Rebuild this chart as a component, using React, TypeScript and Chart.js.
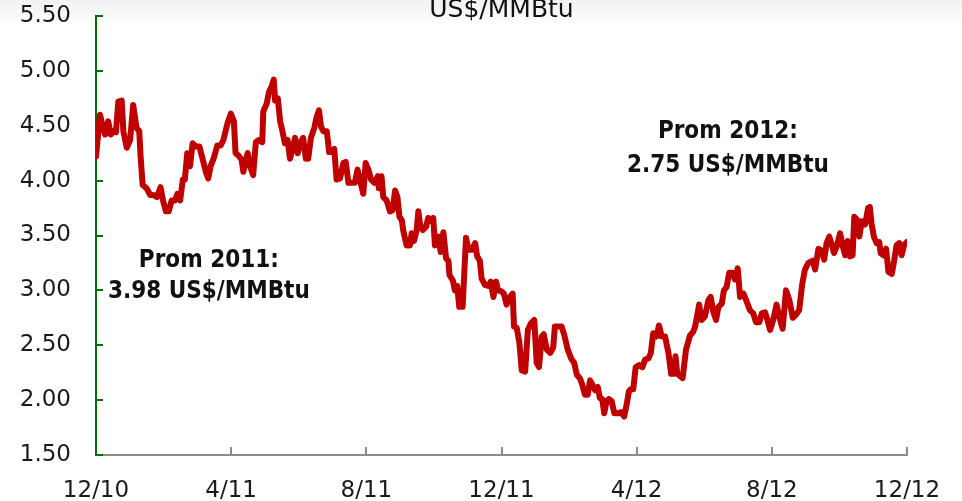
import React, { useEffect, useRef } from "react";
import { Chart, registerables } from "chart.js";

Chart.register(...registerables);

// months elapsed since 1 Dec 2010
const months = [
  0.0, 0.12, 0.2, 0.27, 0.36, 0.44, 0.51, 0.59, 0.66, 0.76, 0.81, 0.91, 1.01, 1.1, 1.2, 1.28, 1.32, 1.38, 1.5, 1.6,
  1.7, 1.8, 1.91, 1.99, 2.07, 2.15, 2.24, 2.34, 2.41, 2.49, 2.57, 2.63, 2.7, 2.78, 2.86, 2.96, 3.06, 3.16, 3.26, 3.32,
  3.39, 3.49, 3.59, 3.69, 3.77, 3.89, 3.99, 4.08, 4.13, 4.21,
  4.31, 4.36, 4.43, 4.49, 4.56, 4.65, 4.73, 4.82, 4.92, 4.95, 5.05, 5.12, 5.2, 5.26, 5.3, 5.38, 5.45, 5.51, 5.59, 5.67,
  5.74, 5.81, 5.89, 5.97, 6.04, 6.13, 6.21, 6.28, 6.36, 6.46, 6.53, 6.6, 6.66, 6.73, 6.83, 6.9, 6.99, 7.05, 7.12, 7.22,
  7.32, 7.39, 7.47, 7.57, 7.66, 7.74, 7.81, 7.91, 7.98, 8.06, 8.14, 8.24, 8.34, 8.37, 8.45,
  8.5, 8.6, 8.7, 8.78, 8.85, 8.92, 8.98, 9.05, 9.09, 9.19, 9.29, 9.34, 9.41, 9.49, 9.54, 9.59, 9.67, 9.77, 9.83, 9.93,
  9.98, 10.03, 10.13, 10.2, 10.28, 10.36, 10.43, 10.46, 10.56, 10.62, 10.69, 10.75, 10.85, 10.95, 11.02, 11.12, 11.22, 11.28, 11.36, 11.41,
  11.51, 11.61, 11.68, 11.76, 11.84, 11.9, 12.0, 12.07, 12.15, 12.25, 12.33, 12.37, 12.45, 12.53, 12.6, 12.7,
  12.78, 12.87, 12.97, 13.04, 13.11, 13.19, 13.25, 13.34, 13.44, 13.53, 13.58, 13.68, 13.78, 13.86, 13.96, 14.06, 14.15, 14.23, 14.32, 14.39,
  14.47, 14.55, 14.62, 14.69, 14.77, 14.85, 14.91, 14.98, 15.04, 15.11, 15.18, 15.26, 15.34, 15.44, 15.54, 15.63, 15.71, 15.77, 15.83, 15.9,
  15.97, 16.07, 16.17, 16.25, 16.35, 16.42, 16.49, 16.59, 16.66, 16.74, 16.84, 16.94, 17.02, 17.11,
  17.15, 17.2, 17.36, 17.46, 17.58, 17.67, 17.73, 17.85, 17.92, 18.02, 18.12, 18.19, 18.27, 18.35, 18.42, 18.52, 18.58, 18.66, 18.74, 18.84,
  18.91, 18.99, 19.06, 19.16, 19.24, 19.35, 19.45, 19.53, 19.63, 19.7, 19.8, 19.87, 19.95, 20.04, 20.14, 20.22, 20.32, 20.42, 20.52, 20.62,
  20.72, 20.81, 20.9, 20.98, 21.08, 21.21, 21.28, 21.38, 21.48, 21.55, 21.62, 21.7, 21.77, 21.84, 21.92, 22.02, 22.1, 22.17, 22.24, 22.31,
  22.39, 22.44, 22.53, 22.59, 22.66, 22.76, 22.85, 22.9, 22.95, 23.02, 23.1, 23.18, 23.22, 23.3, 23.38, 23.45, 23.55, 23.62, 23.69, 23.77,
  23.84, 23.91, 23.99,
];

// Henry Hub price, US$/MMBtu
const prices = [
  4.22, 4.6, 4.49, 4.42, 4.54, 4.42, 4.45, 4.44, 4.72, 4.73, 4.45, 4.3, 4.37, 4.69, 4.48, 4.45, 4.22, 3.96, 3.93, 3.87,
  3.87, 3.85, 3.94, 3.81, 3.72, 3.72, 3.82, 3.82, 3.88, 3.82, 4.01, 4.01, 4.25, 4.13, 4.34, 4.31, 4.31, 4.19, 4.07, 4.02,
  4.13, 4.21, 4.32, 4.32, 4.37, 4.52, 4.61, 4.54, 4.25, 4.23,
  4.19, 4.08, 4.19, 4.25, 4.13, 4.05, 4.35, 4.37, 4.35, 4.63, 4.7, 4.81, 4.86, 4.92, 4.73, 4.75, 4.54, 4.46, 4.34, 4.37,
  4.2, 4.28, 4.39, 4.25, 4.34, 4.39, 4.2, 4.2, 4.39, 4.48, 4.58, 4.64, 4.49, 4.45, 4.45, 4.26, 4.26, 4.29, 4.01, 4.02,
  4.16, 4.17, 3.98, 3.98, 3.98, 4.1, 4.01, 3.88, 4.16, 4.1, 4.01, 3.98, 4.04, 3.93, 4.04,
  3.85, 3.82, 3.72, 3.73, 3.91, 3.85, 3.67, 3.64, 3.55, 3.41, 3.41, 3.52, 3.45, 3.55, 3.72, 3.6, 3.55, 3.58, 3.66, 3.63,
  3.66, 3.41, 3.49, 3.35, 3.53, 3.29, 3.27, 3.14, 3.09, 3.0, 3.04, 2.85, 2.85, 3.48, 3.37, 3.37, 3.43, 3.31, 3.27, 3.11,
  3.05, 3.04, 3.08, 2.94, 3.08, 3.0, 2.99, 2.97, 2.87, 2.94, 2.97, 2.67, 2.66, 2.52, 2.27, 2.26,
  2.64, 2.7, 2.73, 2.34, 2.3, 2.58, 2.6, 2.46, 2.43, 2.48, 2.67, 2.67, 2.67, 2.59, 2.46, 2.38, 2.34, 2.23, 2.2, 2.14,
  2.05, 2.05, 2.18, 2.14, 2.09, 2.12, 2.02, 2.01, 1.88, 1.99, 2.01, 1.99, 1.88, 1.88, 1.89, 1.85, 1.97, 2.08, 2.1, 2.1,
  2.3, 2.32, 2.3, 2.37, 2.38, 2.43, 2.61, 2.58, 2.68, 2.58, 2.58, 2.43, 2.24, 2.24,
  2.4, 2.24, 2.2, 2.46, 2.59, 2.62, 2.67, 2.87, 2.73, 2.76, 2.91, 2.94, 2.8, 2.73, 2.85, 2.88, 3.0, 3.03, 3.16, 3.16,
  3.1, 3.2, 2.94, 2.97, 2.91, 2.82, 2.79, 2.71, 2.71, 2.79, 2.8, 2.73, 2.64, 2.73, 2.87, 2.76, 2.65, 3.0, 2.91, 2.75,
  2.78, 2.82, 3.06, 3.19, 3.25, 3.27, 3.19, 3.38, 3.36, 3.28, 3.43, 3.49, 3.42, 3.34, 3.4, 3.52, 3.4, 3.32, 3.45, 3.31,
  3.32, 3.67, 3.64, 3.49, 3.63, 3.6, 3.75, 3.76, 3.61, 3.49, 3.43, 3.44, 3.34, 3.32, 3.38, 3.17, 3.15, 3.27, 3.41, 3.43,
  3.32, 3.41, 3.44,
];

const xTickLabels = ["12/10", "4/11", "8/11", "12/11", "4/12", "8/12", "12/12"];
const xMin = 0;
const xMax = 24;
const xStep = 4;
const yMin = 1.5;
const yMax = 5.5;
const yStep = 0.5;

const titleText = "US$/MMBtu";

const note2011Lines = ["Prom 2011:", "3.98 US$/MMBtu"];
const note2011Month = 3.34;
const note2011Values = [3.213, 2.931];

const note2012Lines = ["Prom 2012:", "2.75 US$/MMBtu"];
const note2012Month = 18.7;
const note2012Values = [4.388, 4.081];

const notes = [
  { lines: note2011Lines, month: note2011Month, values: note2011Values },
  { lines: note2012Lines, month: note2012Month, values: note2012Values },
];

const FONT = '"DejaVu Sans", "Liberation Sans", sans-serif';
const NOTE_FONT = 'bold 24px "DejaVu Sans Condensed", "DejaVu Sans", sans-serif';

const decorPlugin = {
  id: "decor",
  beforeDraw(chart: any) {
    const { ctx, width, height } = chart;
    ctx.save();
    ctx.fillStyle = "#ffffff";
    ctx.fillRect(0, 0, width, height);
    const g = ctx.createLinearGradient(0, 0, 0, 26);
    g.addColorStop(0, "#f1f1f1");
    g.addColorStop(1, "#ffffff");
    ctx.fillStyle = g;
    ctx.fillRect(0, 0, width, 26);
    ctx.restore();
  },
  beforeDatasetsDraw(chart: any) {
    const { ctx, chartArea, scales } = chart;
    const xs = scales.x;
    const ys = scales.y;
    ctx.save();
    ctx.lineWidth = 2;
    ctx.strokeStyle = "#007000";
    ys.ticks.forEach((t: any) => {
      const py = Math.round(ys.getPixelForValue(t.value));
      ctx.beginPath();
      ctx.moveTo(chartArea.left, py);
      ctx.lineTo(chartArea.left + 7, py);
      ctx.stroke();
    });
    ctx.strokeStyle = "#8c8c8c";
    xs.ticks.forEach((t: any, i: number) => {
      if (i === 0) return;
      const px = Math.round(xs.getPixelForValue(t.value));
      ctx.beginPath();
      ctx.moveTo(px, chartArea.bottom);
      ctx.lineTo(px, chartArea.bottom - 8);
      ctx.stroke();
    });
    ctx.restore();
  },
  afterDraw(chart: any) {
    const { ctx, chartArea, scales } = chart;
    ctx.save();
    ctx.fillStyle = "#111111";
    ctx.textAlign = "center";
    ctx.textBaseline = "alphabetic";
    ctx.font = `25px ${FONT}`;
    ctx.fillText(titleText, (chartArea.left + chartArea.right) / 2, chartArea.top + 1);
    ctx.font = NOTE_FONT;
    notes.forEach((n) => {
      const px = scales.x.getPixelForValue(n.month);
      n.lines.forEach((line, i) => {
        ctx.fillText(line, px, scales.y.getPixelForValue(n.values[i]));
      });
    });
    ctx.restore();
  },
};

export default function App() {
  const canvasRef = useRef<HTMLCanvasElement | null>(null);

  useEffect(() => {
    const canvas = canvasRef.current;
    if (!canvas) return;
    const n = Math.min(months.length, prices.length);
    const points = [];
    for (let i = 0; i < n; i++) points.push({ x: months[i], y: prices[i] });

    const chart = new Chart(canvas, {
      type: "line",
      data: {
        datasets: [
          {
            data: points,
            borderColor: "#c00000",
            borderWidth: 6,
            pointRadius: 0,
            tension: 0,
            fill: false,
            borderJoinStyle: "round",
            borderCapStyle: "round",
          },
        ],
      },
      options: {
        responsive: false,
        maintainAspectRatio: false,
        animation: false,
        devicePixelRatio: 1,
        layout: { padding: { top: 16, right: 55, bottom: 0, left: 0 } },
        plugins: {
          legend: { display: false },
          tooltip: { enabled: false },
          title: { display: false },
        },
        scales: {
          x: {
            type: "linear",
            min: xMin,
            max: xMax,
            afterFit: (s: any) => {
              s.height = 46;
            },
            grid: { display: false, drawTicks: true, tickLength: 22 },
            border: { display: true, color: "#8c8c8c", width: 2 },
            ticks: {
              stepSize: xStep,
              padding: 0,
              autoSkip: false,
              maxRotation: 0,
              color: "#1a1a1a",
              font: { family: FONT, size: 23 },
              callback: (v: any) => xTickLabels[Math.round((Number(v) - xMin) / xStep)] ?? "",
            },
          },
          y: {
            type: "linear",
            min: yMin,
            max: yMax,
            afterFit: (s: any) => {
              s.width = 96;
            },
            grid: { display: false, drawTicks: true, tickLength: 23 },
            border: { display: true, color: "#007000", width: 2 },
            ticks: {
              stepSize: yStep,
              padding: 2,
              color: "#1a1a1a",
              font: { family: FONT, size: 23 },
              callback: (v: any) => Number(v).toFixed(2),
            },
          },
        },
      },
      plugins: [decorPlugin],
    } as any);

    return () => chart.destroy();
  }, []);

  return (
    <div style={{ position: "absolute", left: 0, top: 0, width: 962, height: 501 }}>
      <canvas ref={canvasRef} width={962} height={501} style={{ display: "block" }} />
    </div>
  );
}
